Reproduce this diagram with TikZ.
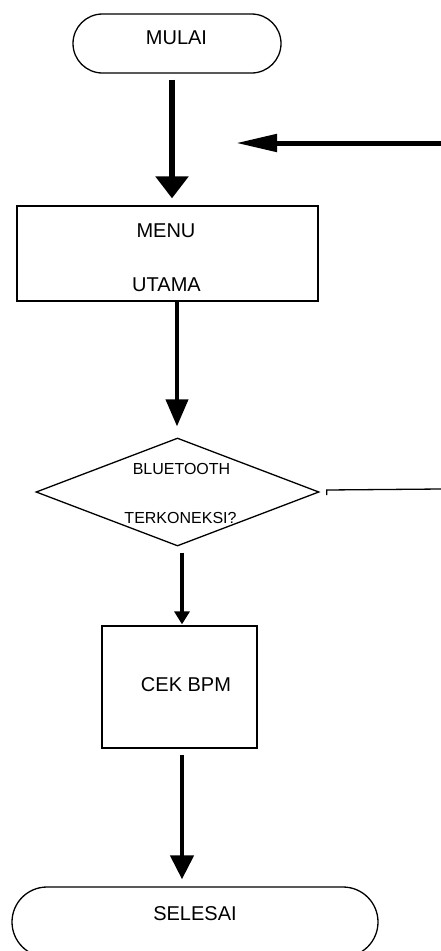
\documentclass[tikz,border=0pt]{standalone}
\usepackage{fontspec}
\setmainfont{Liberation Sans}
\usetikzlibrary{arrows.meta,shapes.geometric,shapes.misc}
\begin{document}
\begin{tikzpicture}[x=1pt,y=-1pt,
  term/.style={draw,rounded rectangle,line width=1.3pt,inner sep=0pt},
  procbox/.style={draw,rectangle,line width=1.3pt,inner sep=0pt},
  decis/.style={draw,diamond,line width=1.3pt,inner sep=0pt},
  lbl/.style={inner sep=0pt,font=\fontsize{20}{24}\selectfont},
  slbl/.style={inner sep=0pt,font=\fontsize{16}{19}\selectfont},
  thinline/.style={line width=1.3pt},
]
\useasboundingbox (0,0) rectangle (441,951);
% shapes
\node[term,minimum width=208pt,minimum height=59pt] (mulai) at (177,43.5) {};
\node[procbox,minimum width=301pt,minimum height=95pt] (menu) at (167.5,253.5) {};
\node[decis,minimum width=283pt,minimum height=108pt] (dec) at (177.5,492) {};
\node[procbox,minimum width=155pt,minimum height=122pt] (cek) at (179.5,687) {};
\node[term,minimum width=366pt,minimum height=70pt] (selesai) at (195,922) {};
% texts
\node[lbl] (tmulai) at (176.5,37.5) {MULAI};
\node[lbl] (tmenu) at (166,230.5) {MENU};
\node[lbl] (tutama) at (166.5,285) {UTAMA};
\node[slbl] (tblue) at (181.5,468.5) {BLUETOOTH};
\node[slbl] (tterk) at (180.5,517.5) {TERKONEKSI?};
\node[lbl] (tcek) at (186,684.5) {CEK BPM};
\node[lbl] (tsel) at (195,913.5) {SELESAI};
% connectors
\draw[line width=6pt,-{Triangle[length=22pt,width=32pt]}]
  ([xshift=-5pt,yshift=-6pt]mulai.south) -- ([xshift=4.5pt,yshift=7pt]menu.north);
\coordinate (r2) at (441,143);
\coordinate (l2) at (236,143);
\draw[line width=5pt,-{Triangle[length=41pt,width=17pt]}] (r2) -- (l2);
\draw[line width=4pt,-{Triangle[length=27pt,width=22pt]}]
  ([xshift=9.5pt]menu.south) -- ([xshift=-0.5pt,yshift=11pt]dec.north);
\draw[line width=3.5pt,-{Triangle[length=13pt,width=15pt]}]
  ([xshift=4.5pt,yshift=-6pt]dec.south) -- ([xshift=2.5pt,yshift=1pt]cek.north);
\draw[line width=4.5pt,-{Triangle[length=24pt,width=23pt]}]
  ([xshift=2.5pt,yshift=-6pt]cek.south) -- ([xshift=-13pt,yshift=7pt]selesai.north);
\coordinate (r1) at (441,489);
\draw[thinline] ([xshift=7pt,yshift=-3pt]dec.east) -- ++(0,-5) -- (r1);
\end{tikzpicture}
\end{document}
